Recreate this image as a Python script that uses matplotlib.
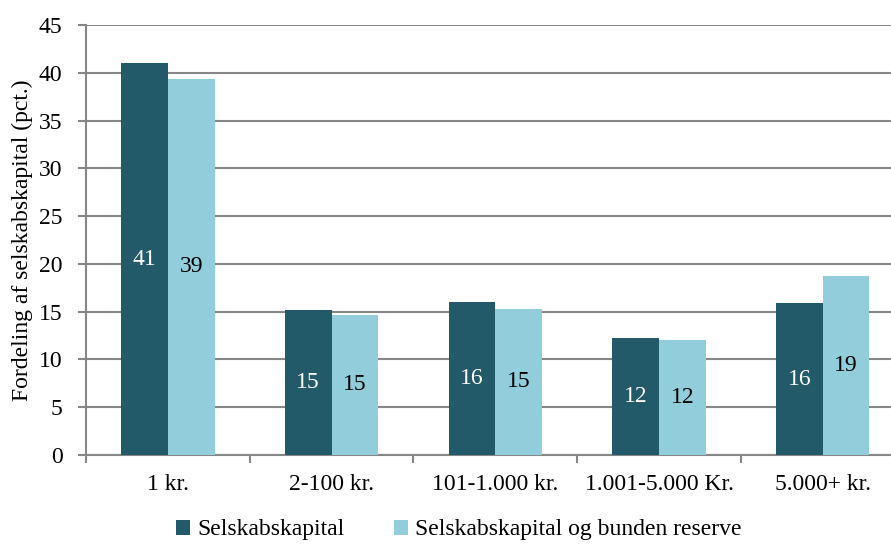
import matplotlib
matplotlib.use("Agg")
import matplotlib.pyplot as plt
import numpy as np

categories = ["1 kr.", "2-100 kr.", "101-1.000 kr.", "1.001-5.000 Kr.", "5.000+ kr."]
selskabskapital = [41.0, 15.2, 16.0, 12.2, 15.9]
bunden = [39.4, 14.7, 15.3, 12.0, 18.7]
labels_s = ["41", "15", "16", "12", "16"]
labels_b = ["39", "15", "15", "12", "19"]

plt.rcParams['font.family'] = ['Liberation Serif', 'DejaVu Serif']

W, H = 891, 547
fig = plt.figure(figsize=(W/100, H/100), dpi=100)
left_px, right_px, top_px, bot_px = 86, 904.5, 25, 455
ax = fig.add_axes([left_px/W, 1-bot_px/H, (right_px-left_px)/W, (bot_px-top_px)/H])

dark = "#225A69"
light = "#92CDDC"
grid = "#878787"
fs = 17
x = np.arange(len(categories))
bw = 0.285
ax.bar(x - bw/2, selskabskapital, bw, color=dark, label="Selskabskapital", zorder=3)
ax.bar(x + bw/2, bunden, bw, color=light, label="Selskabskapital og bunden reserve", zorder=3)

for i in range(len(categories)):
    ax.text(x[i]-bw/2, selskabskapital[i]/2, labels_s[i], ha='center', va='center', color='white', fontsize=fs, zorder=4)
    ax.text(x[i]+bw/2, bunden[i]/2, labels_b[i], ha='center', va='center', color='black', fontsize=fs, zorder=4)

ax.set_xlim(-0.5, len(categories)-0.5)
ax.set_ylim(0, 45)
ax.set_yticks(np.arange(0, 46, 5))
ax.yaxis.grid(True, color=grid, linewidth=1.5, zorder=0)
ax.set_axisbelow(True)
ax.set_xticks(np.arange(-0.5, len(categories), 1))
ax.set_xticklabels([])
ax.set_xticks(x, minor=True)
ax.set_xticklabels(categories, minor=True, fontsize=fs)
ax.tick_params(axis='x', which='minor', length=0, pad=14)
ax.tick_params(axis='x', which='major', length=6, width=1.5, color=grid)
ax.tick_params(axis='y', length=6, width=1.5, color=grid, labelsize=fs, pad=11)
for s in ['top', 'right']:
    ax.spines[s].set_visible(False)
ax.spines['left'].set_color(grid)
ax.spines['left'].set_linewidth(1.5)
ax.spines['bottom'].set_color(grid)
ax.spines['bottom'].set_linewidth(1.5)
ax.set_ylabel("Fordeling af selskabskapital (pct.)", fontsize=fs, labelpad=4)

fig.legend(loc='center', bbox_to_anchor=(459/W, 1-530/H), ncol=2, frameon=False,
           fontsize=fs, handlelength=0.6, handleheight=0.6, handletextpad=0.3, columnspacing=2.1)

fig.savefig("out.png", dpi=100)
